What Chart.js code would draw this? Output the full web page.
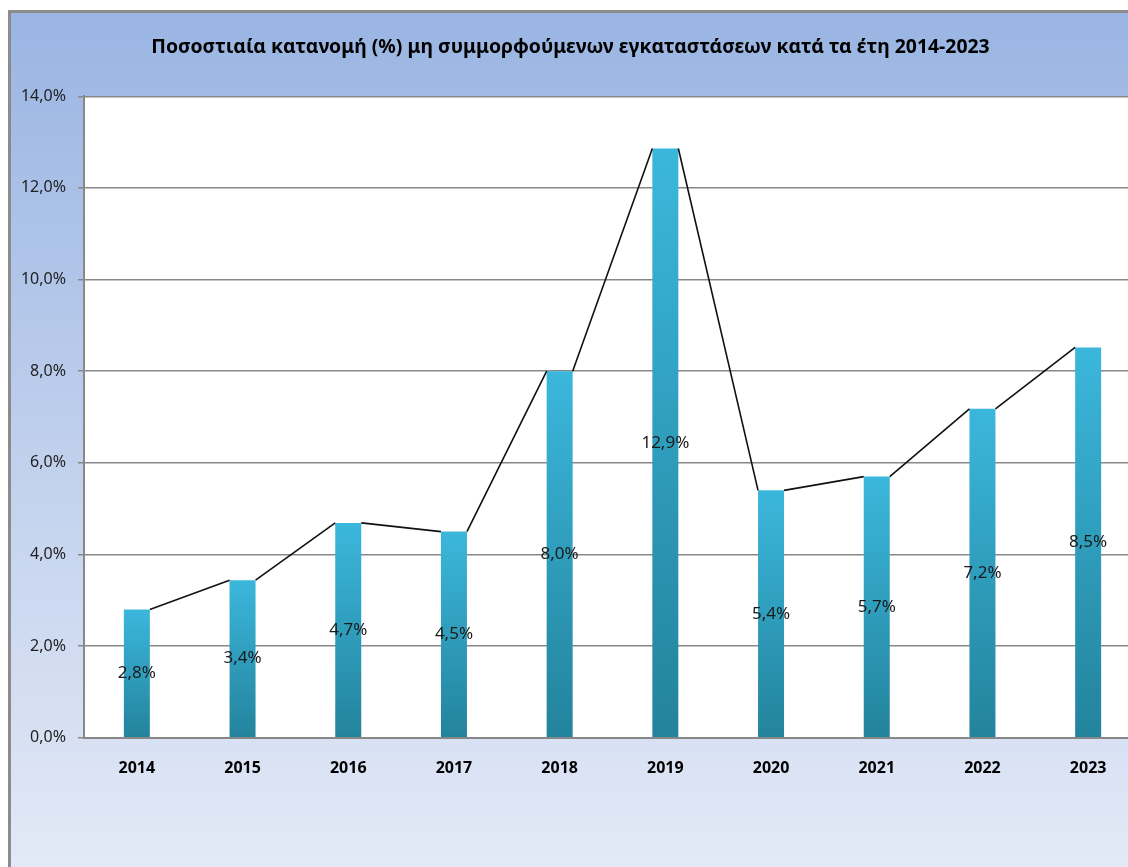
<!DOCTYPE html>
<html>
<head>
<meta charset="utf-8">
<script src="https://cdn.jsdelivr.net/npm/chart.js@4.4.1/dist/chart.umd.min.js"></script>
<style>
  html, body { margin: 0; padding: 0; background: #fff; overflow: hidden; }
  #wrap { width: 1128px; height: 867px; overflow: hidden; position: relative; }
</style>
</head>
<body>
<div id="wrap"><canvas id="chart" width="1150" height="867"></canvas></div>
<script>
// data
const years = ['2014', '2015', '2016', '2017', '2018', '2019', '2020', '2021', '2022', '2023'];
const shares = [2.8, 3.44, 4.69, 4.5, 8.0, 12.86, 5.4, 5.7, 7.18, 8.52];
const yTicks = [0, 2, 4, 6, 8, 10, 12, 14];

const chartTitle = 'Ποσοστιαία κατανομή (%) μη συμμορφούμενων εγκαταστάσεων κατά τα έτη 2014-2023';
const fontFamily = "'Noto Sans', 'DejaVu Sans', sans-serif";

function pct(v) {
    return v.toFixed(1).replace('.', ',') + '%';
}

// frame background + white plot area
const framePlugin = {
    id: 'frame',
    beforeDraw(chart) {
        const ctx = chart.ctx;
        const a = chart.chartArea;
        ctx.save();
        ctx.fillStyle = '#ffffff';
        ctx.fillRect(0, 0, chart.width, chart.height);
        const g = ctx.createLinearGradient(0, 11, 0, chart.height);
        g.addColorStop(0, '#9ab5e3');
        g.addColorStop(1, '#e3e9f6');
        ctx.fillStyle = g;
        ctx.fillRect(9, 11, chart.width - 9, chart.height - 11);
        ctx.strokeStyle = '#8c8c8c';
        ctx.lineWidth = 3;
        ctx.beginPath();
        ctx.moveTo(9.5, chart.height);
        ctx.lineTo(9.5, 11.5);
        ctx.lineTo(chart.width, 11.5);
        ctx.stroke();
        ctx.fillStyle = '#ffffff';
        ctx.fillRect(a.left, a.top, a.right - a.left, a.bottom - a.top);
        ctx.restore();
    }
};

// lines joining the bar tops, edge to edge
const seriesLinePlugin = {
    id: 'seriesLines',
    afterDatasetsDraw(chart) {
        const bars = chart.getDatasetMeta(0).data;
        const ctx = chart.ctx;
        ctx.save();
        ctx.strokeStyle = '#111111';
        ctx.lineWidth = 1.6;
        ctx.beginPath();
        for (let i = 0; i < bars.length - 1; i++) {
            const b1 = bars[i], b2 = bars[i + 1];
            ctx.moveTo(b1.x + b1.width / 2, b1.y);
            ctx.lineTo(b2.x - b2.width / 2, b2.y);
        }
        ctx.stroke();
        ctx.restore();
    }
};

// value labels in the middle of each bar
const valueLabelPlugin = {
    id: 'valueLabels',
    afterDatasetsDraw(chart) {
        const bars = chart.getDatasetMeta(0).data;
        const ctx = chart.ctx;
        ctx.save();
        ctx.font = '17px ' + fontFamily;
        ctx.fillStyle = '#1a1a1a';
        ctx.textAlign = 'center';
        ctx.textBaseline = 'middle';
        bars.forEach((b, i) => {
            ctx.fillText(pct(shares[i]), b.x, (b.y + b.base) / 2);
        });
        ctx.restore();
    }
};

function barFill(context) {
    const chart = context.chart;
    if (!chart.chartArea || context.dataIndex === undefined) return '#31a6c9';
    const y = chart.scales.y;
    const top = y.getPixelForValue(shares[context.dataIndex]);
    const bottom = y.getPixelForValue(0);
    const g = chart.ctx.createLinearGradient(0, top, 0, bottom);
    g.addColorStop(0, '#3bb7dc');
    g.addColorStop(1, '#23839c');
    return g;
}

const ctx = document.getElementById('chart').getContext('2d');
new Chart(ctx, {
    type: 'bar',
    data: {
        labels: years,
        datasets: [{
            data: shares,
            backgroundColor: barFill,
            borderWidth: 0,
            barPercentage: 0.246,
            categoryPercentage: 1.0
        }]
    },
    options: {
        responsive: false,
        animation: false,
        devicePixelRatio: 1,
        layout: { padding: { top: 0, left: 0, right: 9, bottom: 68 } },
        plugins: {
            legend: { display: false },
            tooltip: { enabled: false },
            title: {
                display: true,
                text: chartTitle,
                color: '#000000',
                font: { family: fontFamily, size: 19.4, weight: 'bold', lineHeight: 1.2 },
                padding: { top: 36, bottom: 37 }
            }
        },
        scales: {
            x: {
                grid: { display: false, drawTicks: false },
                border: { display: true, color: '#888888', width: 2 },
                ticks: {
                    color: '#000000',
                    padding: 21,
                    font: { family: fontFamily, size: 16, weight: 'bold' }
                }
            },
            y: {
                min: 0,
                max: 14,
                afterFit(scale) { scale.width = 84; },
                afterBuildTicks(scale) { scale.ticks = yTicks.map(v => ({ value: v })); },
                grid: { color: '#888888', lineWidth: 1.5, tickLength: 6 },
                border: { display: true, color: '#888888', width: 2 },
                ticks: {
                    color: '#222222',
                    padding: 12,
                    font: { family: fontFamily, size: 16 },
                    callback: v => pct(v)
                }
            }
        }
    },
    plugins: [framePlugin, seriesLinePlugin, valueLabelPlugin]
});
</script>
</body>
</html>
